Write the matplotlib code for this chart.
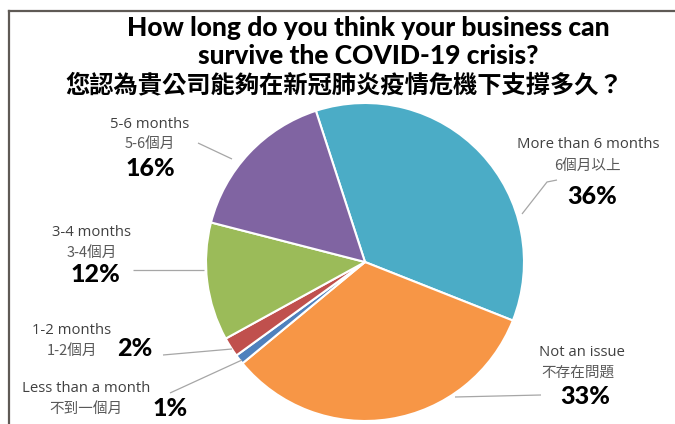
import numpy as np
import matplotlib.pyplot as plt
from matplotlib.lines import Line2D

# survey answers, clockwise from the top
labels_en = ['More than 6 months', 'Not an issue', 'Less than a month',
             '1-2 months', '3-4 months', '5-6 months']
labels_zh = ['6個月以上', '不存在問題', '不到一個月', '1-2個月', '3-4個月', '5-6個月']
shares = [36, 33, 1, 2, 12, 16]
colors = ['#4bacc6', '#f79646', '#4f81bd', '#c0504d', '#9bbb59', '#8064a2']

title_en = 'How long do you think your business can\nsurvive the COVID-19 crisis?'
title_zh = '您認為貴公司能夠在新冠肺炎疫情危機下支撐多久？'

W, H = 675, 424
fig = plt.figure(figsize=(W / 100, H / 100), dpi=100)
ax = fig.add_axes([0, 0, 1, 1])

cx, cy, R = 365, 262, 159
wedges, _ = ax.pie(shares, colors=colors, startangle=108, counterclock=False,
                   center=(cx, H - cy), radius=R,
                   wedgeprops=dict(edgecolor='white', linewidth=1.5))
ax.set_xlim(0, W)
ax.set_ylim(0, H)
ax.set_aspect('auto')
ax.axis('off')

def px(x, y):
    return x, H - y

zh = ['Noto Sans CJK TC', 'DejaVu Sans']
en = ['Open Sans', 'DejaVu Sans']

# label block: english line, chinese line, percent (x, y of each line centre)
blocks = [
    ((588, 145), (587, 166), (592, 196)),
    ((582, 352), (578, 373), (585, 397)),
    ((86, 389), (86, 409), (170, 408)),
    ((72, 330), (72, 351), (135, 349)),
    ((92, 233), (92, 253), (95, 274)),
    ((150, 124), (150, 144), (150, 168)),
]
for e, z, p in zip(labels_en, labels_zh, range(len(shares))):
    (ex, ey), (zx, zy), (qx, qy) = blocks[p]
    ax.text(*px(ex, ey), e, ha='center', va='center', fontsize=10.7,
            family=en, color='#404040')
    ax.text(*px(zx, zy), z, ha='center', va='center', fontsize=10.5,
            family=zh, color='#595959')
    ax.text(*px(qx, qy), f'{shares[p]}%', ha='center', va='center',
            fontsize=18, family=['Lato', 'DejaVu Sans'], weight='black',
            color='black')

# leader lines from labels to the pie
leaders = [
    [(557, 180), (547, 182), (522, 214)],
    [(541, 395), (455, 397)],
    [(170, 393), (242, 360)],
    [(163, 355), (232, 349)],
    [(133, 270), (204, 270)],
    [(198, 143), (232, 159)],
]
for pts in leaders:
    xs = [p[0] for p in pts]
    ys = [H - p[1] for p in pts]
    ax.plot(xs, ys, color='#a6a6a6', lw=0.9, solid_capstyle='butt')

# titles
ax.text(*px(368, 42), title_en, ha='center', va='center', fontsize=19,
        family=['Lato', 'DejaVu Sans'], weight='black', linespacing=1.2)
ax.text(*px(344, 85), title_zh, ha='center', va='center',
        fontsize=17.5, family=zh, weight='bold')

# frame lines on top and left
ax.add_line(Line2D([8.5, W], [H - 10.5, H - 10.5], color='#5f5a55', lw=1.6))
ax.add_line(Line2D([8.5, 8.5], [0, H - 10.5], color='#5f5a55', lw=1.6))

fig.savefig('out.png', dpi=100)
